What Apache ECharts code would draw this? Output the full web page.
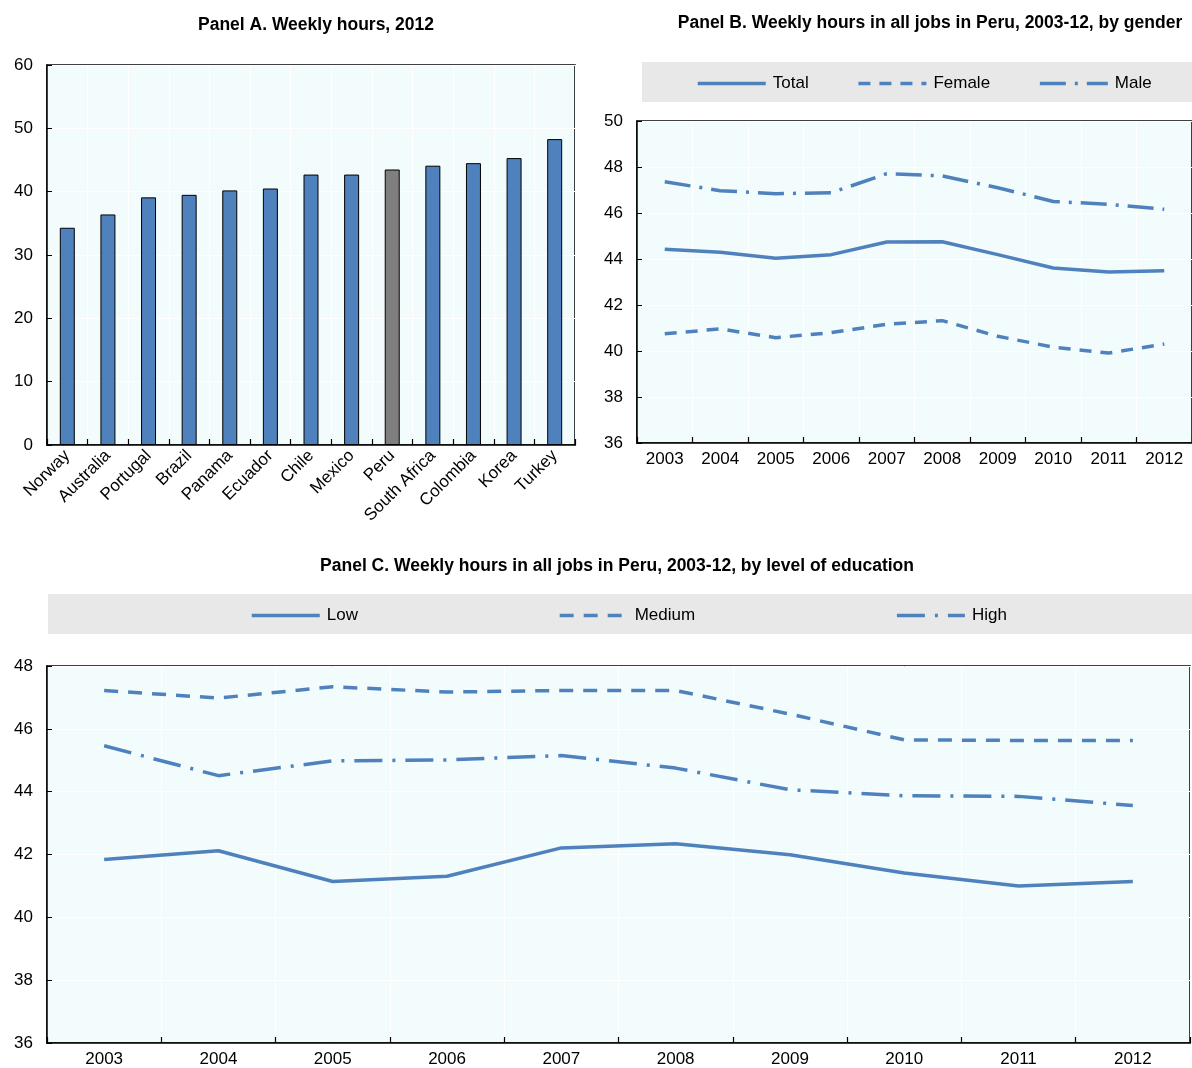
<!DOCTYPE html>
<html><head><meta charset="utf-8">
<script src="https://cdn.jsdelivr.net/npm/echarts@6/dist/echarts.min.js"></script>
<style>html,body{margin:0;padding:0;background:#fff}#c{width:1192px;height:1068px}</style>
</head><body><div id="c"></div>
<script>
const countries = ['Norway','Australia','Portugal','Brazil','Panama','Ecuador','Chile','Mexico','Peru','South Africa','Colombia','Korea','Turkey'];
const hours2012 = [34.3,36.4,39.1,39.5,40.2,40.5,42.7,42.7,43.5,44.1,44.5,45.3,48.3];
const years = ['2003','2004','2005','2006','2007','2008','2009','2010','2011','2012'];
const totalHours = [44.42,44.29,44.03,44.19,44.74,44.75,44.19,43.61,43.43,43.49];
const femaleHours = [40.75,40.96,40.58,40.8,41.16,41.32,40.64,40.17,39.91,40.3];
const maleHours = [47.36,46.97,46.84,46.88,47.71,47.61,47.1,46.5,46.38,46.16];
const lowHours = [41.84,42.12,41.14,41.31,42.21,42.34,41.99,41.41,41.0,41.14];
const mediumHours = [47.22,46.98,47.34,47.17,47.22,47.22,46.47,45.65,45.63,45.63];
const highHours = [45.46,44.51,44.98,45.01,45.15,44.75,44.06,43.87,43.85,43.56];

const FONT = "'Liberation Sans Narrow','Arial Narrow','Liberation Sans',sans-serif";
const BLUE = '#4F81BD';
const BG = '#F2FCFD';
const chart = echarts.init(document.getElementById('c'), null, {renderer:'canvas'});

function yAx(gi, min, max, interval){
  return {gridIndex:gi, type:'value', min:min, max:max, interval:interval,
    axisLine:{show:true, lineStyle:{color:'#000', width:1.5}},
    axisTick:{show:true, inside:true, length:5, lineStyle:{color:'#000'}},
    axisLabel:{color:'#000', fontFamily:FONT, fontSize:17, margin:14},
    splitLine:{show:true, lineStyle:{color:'#fff', width:1}}};
}
function xAx(gi, data, rot){
  return {gridIndex:gi, type:'category', data:data, boundaryGap:true,
    axisLine:{show:true, lineStyle:{color:'#000', width:1.5}},
    axisTick:{show:true, inside:true, length:6, lineStyle:{color:'#000', width:1.2}},
    axisLabel:{color:'#000', fontFamily:FONT, fontSize:17, margin:8, rotate:rot||0, interval:0},
    splitLine:{show:true, lineStyle:{color:'#fff', width:1}}};
}
function lineS(name, data, xi, yi, type){
  return {name:name, type:'line', xAxisIndex:xi, yAxisIndex:yi, data:data, symbol:'none',
    lineStyle:{color:BLUE, width:3.5, type:type}, itemStyle:{color:BLUE}};
}
const legendCommon = {itemWidth:68, itemHeight:14, padding:0, itemStyle:{opacity:0},
  lineStyle:{width:3.5},
  textStyle:{fontFamily:FONT, fontSize:17, color:'#000', padding:[0,0,0,2]}};

chart.setOption({
  animation:false,
  title:[
    {text:'Panel A. Weekly hours, 2012', left:311, top:11, textAlign:'center',
      textStyle:{fontFamily:FONT, fontSize:17.5, fontWeight:'bold', color:'#000'}},
    {text:'Panel B. Weekly hours in all jobs in Peru, 2003-12, by gender', left:925, top:9, textAlign:'center',
      textStyle:{fontFamily:FONT, fontSize:17.5, fontWeight:'bold', color:'#000'}},
    {text:'Panel C. Weekly hours in all jobs in Peru, 2003-12, by level of education', left:612, top:552, textAlign:'center',
      textStyle:{fontFamily:FONT, fontSize:17.5, fontWeight:'bold', color:'#000'}}
  ],
  graphic:[
    {type:'rect', shape:{x:642, y:62, width:560, height:40}, style:{fill:'#E8E8E8'}, z:-1},
    {type:'rect', shape:{x:48, y:594, width:1150, height:40}, style:{fill:'#E8E8E8'}, z:-1}
  ],
  legend:[
    Object.assign({data:['Total','Female','Male'], left:696, top:75, itemGap:48}, legendCommon),
    Object.assign({data:['Low','Medium','High'], left:250, top:607, itemGap:200}, legendCommon)
  ],
  grid:[
    {left:47, top:65, width:528, height:380, show:true, backgroundColor:BG, borderColor:'#000', borderWidth:1.5},
    {left:637, top:121, width:563, height:322, show:true, backgroundColor:BG, borderColor:'#000', borderWidth:1.5},
    {left:47, top:666, width:1143, height:377, show:true, backgroundColor:BG, borderColor:'#000', borderWidth:1.5}
  ],
  xAxis:[xAx(0, countries, 45), xAx(1, years), xAx(2, years)],
  yAxis:[yAx(0,0,60,10), yAx(1,36,50,2), yAx(2,36,48,2)],
  series:[
    {type:'bar', xAxisIndex:0, yAxisIndex:0, barWidth:15,
      data: hours2012.map((v,i)=>({value:v, itemStyle:{color: countries[i]==='Peru' ? '#7F7F7F' : BLUE}})),
      itemStyle:{borderColor:'#000', borderWidth:1}},
    lineS('Total', totalHours, 1, 1, 'solid'),
    lineS('Female', femaleHours, 1, 1, [12, 9]),
    lineS('Male', maleHours, 1, 1, [26, 9, 3, 9]),
    lineS('Low', lowHours, 2, 2, 'solid'),
    lineS('Medium', mediumHours, 2, 2, [14, 10]),
    lineS('High', highHours, 2, 2, [28, 10, 3, 10])
  ]
});
</script></body></html>
